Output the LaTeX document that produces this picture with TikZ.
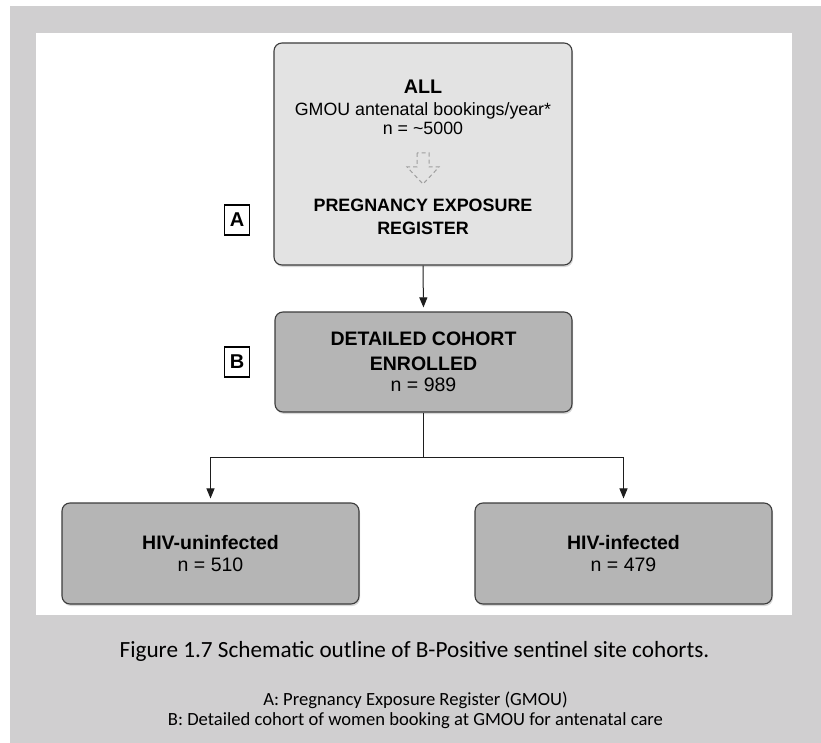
\documentclass[tikz,border=0pt]{standalone}
\usepackage{fontspec}
\setmainfont{Liberation Sans}
\newfontfamily\capfont{Carlito}
\usetikzlibrary{shadows,arrows.meta}
\definecolor{framegray}{HTML}{D0CFD0}
\definecolor{lightfill}{HTML}{E3E3E3}
\definecolor{darkfill}{HTML}{B5B5B5}
\definecolor{boxborder}{HTML}{3C3C3C}
\definecolor{linecol}{HTML}{1E1E1E}
\definecolor{dashgray}{HTML}{9E9E9E}
\begin{document}
\begin{tikzpicture}[x=1pt,y=-1pt,
  flowbox/.style={draw=boxborder, line width=1.1pt, rounded corners=8pt,
    drop shadow={opacity=0.3,shadow xshift=1pt,shadow yshift=-2pt},
    align=center, inner sep=0pt, text=black},
  lightbox/.style={flowbox, fill=lightfill},
  darkbox/.style={flowbox, fill=darkfill, font=\fontsize{19.5}{23}\selectfont},
  boxtxt/.style={anchor=base, inner sep=0pt, font=\fontsize{17.8}{22}\selectfont},
  boxbold/.style={boxtxt, font=\fontsize{17.9}{22}\selectfont\bfseries},
  tagbox/.style={draw=black, line width=1.2pt, fill=white, minimum width=25pt,
    minimum height=30pt, inner sep=0pt, font=\fontsize{20}{20}\selectfont\bfseries},
  arr/.style={-{Triangle[length=10pt,width=8pt]}, line width=1pt, draw=linecol, shorten >=4pt},
  ln/.style={line width=1pt, draw=linecol},
  captxt/.style={anchor=base, inner sep=0pt, text=black}]
\useasboundingbox (0,0) rectangle (821,743);
\fill[framegray] (10,6) rectangle (821,743);
\fill[white] (36,33) rectangle (792,615);

% box A
\node[lightbox, minimum width=298pt, minimum height=222pt] (A) at (423,154) {};
\node[boxbold, font=\fontsize{19.7}{22}\selectfont\bfseries] (allt) at (423,94) {ALL};
\node[boxtxt] (gmou) at (423,116) {GMOU antenatal bookings/year*};
\node[boxtxt] (nall) at (423,135) {n = \char`\~5000};
\coordinate (dtop) at (423,153);
\draw[dashgray, line width=1pt, dash pattern=on 4pt off 3pt]
  ([xshift=-6pt]dtop) -- ++(0,14) -- ++(-10,0) -- ++(16,17) -- ++(16,-17)
  -- ++(-10,0) -- ++(0,-14) -- cycle;
\node[boxbold] (preg) at (423,212) {PREGNANCY EXPOSURE};
\node[boxbold] (reg) at (423,234) {REGISTER};

% box B
\node[darkbox, minimum width=297pt, minimum height=100pt] (B) at (423.5,362)
  {\textbf{DETAILED COHORT}\\[2pt]\textbf{ENROLLED}\\[-2pt]n = 989};

% bottom boxes
\node[darkbox, minimum width=297pt, minimum height=101pt] (C) at (210.5,553.5)
  {\textbf{HIV-uninfected}\\[-1pt]n = 510};
\node[darkbox, minimum width=297pt, minimum height=101pt] (D) at (623.5,553.5)
  {\textbf{HIV-infected}\\[-1pt]n = 479};

% tags
\node[tagbox] (tagA) at (237,220) {A};
\node[tagbox] (tagB) at (237,362) {B};

% connectors
\draw[arr] (A.south) -- (B.north);
\coordinate (split) at (423.5,457);
\draw[ln] (B.south) -- (split);
\draw[arr] (split) -| (C.north);
\draw[arr] (split) -| (D.north);

% caption
\node[captxt, font=\capfont\fontsize{23.2}{26}\selectfont] (cap) at (414.5,657)
  {Figure 1.7 Schematic outline of B-Positive sentinel site cohorts.};
\node[captxt, font=\capfont\fontsize{18.6}{20}\selectfont] (capA) at (415.5,705)
  {A: Pregnancy Exposure Register (GMOU)};
\node[captxt, font=\capfont\fontsize{18.6}{20}\selectfont] (capB) at (415.5,725)
  {B: Detailed cohort of women booking at GMOU for antenatal care};
\end{tikzpicture}
\end{document}
